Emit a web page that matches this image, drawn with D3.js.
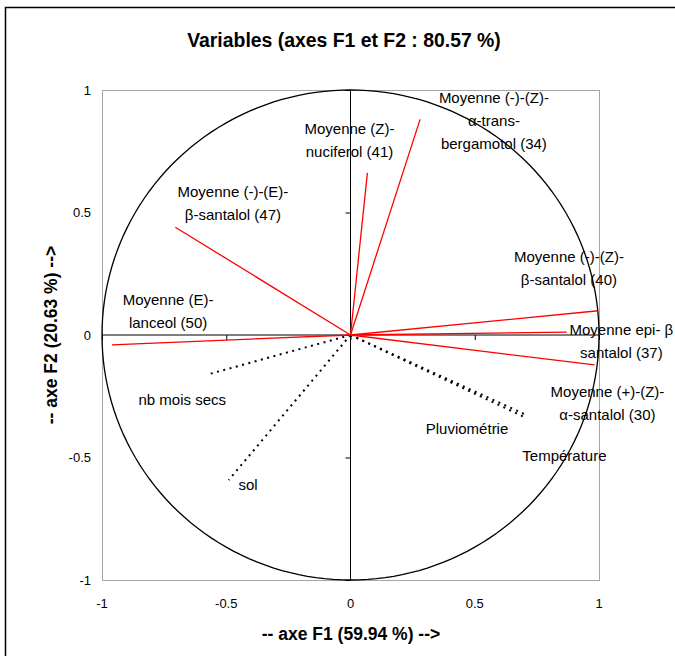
<!DOCTYPE html>
<html>
<head>
<meta charset="utf-8">
<script src="https://cdn.jsdelivr.net/npm/d3@7"></script>
<style>
  html, body { margin: 0; padding: 0; background: #fff; }
  svg { display: block; font-family: "Liberation Sans", Arial, sans-serif; }
</style>
</head>
<body>
<svg id="chart" width="675" height="656"></svg>
<script>
// ---------------- DATA ----------------
const title = "Variables (axes F1 et F2 : 80.57 %)";
const xAxisTitle = "-- axe F1 (59.94 %) -->";
const yAxisTitle = "-- axe F2 (20.63 %) -->";

const tickValues = [-1, -0.5, 0, 0.5, 1];
const tickLabels = ["-1", "-0.5", "0", "0.5", "1"];

// Active variables (red vectors)
const activeLabels = [
  ["Moyenne (E)-", "lanceol (50)"],
  ["Moyenne (-)-(E)-", "\u03b2-santalol (47)"],
  ["Moyenne (Z)-", "nuciferol (41)"],
  ["Moyenne (-)-(Z)-", "\u03b1-trans-", "bergamotol (34)"],
  ["Moyenne (-)-(Z)-", "\u03b2-santalol (40)"],
  ["Moyenne epi- \u03b2", "santalol (37)"],
  ["Moyenne (+)-(Z)-", "\u03b1-santalol (30)"]
];
const activeF1 = [-0.960, -0.705, 0.068, 0.280, 0.997, 0.870, 0.982];
const activeF2 = [-0.040, 0.440, 0.662, 0.880, 0.099, 0.012, -0.122];

// Supplementary variables (black dotted vectors)
const suppLabels = [["nb mois secs"], ["sol"], ["Pluviom\u00e9trie"], ["Temp\u00e9rature"]];
const suppF1 = [-0.567, -0.490, 0.700, 0.705];
const suppF2 = [-0.159, -0.592, -0.335, -0.325];

// ---------------- LAYOUT ----------------
// label anchors (centre of first text line), in F1/F2 units
const activeLabelAt = [
  [-0.734, 0.143], [-0.473, 0.584], [-0.004, 0.841], [0.577, 0.971],
  [0.879, 0.322], [1.090, 0.024], [1.034, -0.229]
];
const suppLabelAt = [[-0.677, -0.265], [-0.412, -0.612], [0.469, -0.380], [0.861, -0.490]];

const svg = d3.select("#chart");

const x = d3.scaleLinear().domain([-1, 1]).range([102, 599]);
const y = d3.scaleLinear().domain([-1, 1]).range([580, 90]);

// outer chart border (extends past the window on right/bottom)
svg.append("rect")
  .attr("x", 5.5).attr("y", 7.5).attr("width", 700).attr("height", 700)
  .attr("fill", "#fff").attr("stroke", "#000").attr("stroke-width", 1.5);

// plot area border
svg.append("rect")
  .attr("x", x(-1) + 0.5).attr("y", y(1) + 0.5)
  .attr("width", x(1) - x(-1)).attr("height", y(-1) - y(1))
  .attr("fill", "none").attr("stroke", "#a6a6a6").attr("stroke-width", 1);

// unit circle
const circ = d3.range(0, 361, 2).map(a => [Math.cos(a * Math.PI / 180), Math.sin(a * Math.PI / 180)]);
svg.append("path")
  .attr("d", d3.line().x(d => x(d[0])).y(d => y(d[1]))(circ))
  .attr("fill", "none").attr("stroke", "#000").attr("stroke-width", 1.3);

// axes through origin with D3 axis generators
const xAxis = d3.axisBottom(x).tickValues(tickValues).tickSize(5).tickFormat("");
const gx = svg.append("g").attr("transform", `translate(0,${y(0)})`).call(xAxis);
gx.select(".domain").attr("d", `M${x(-1)},0H${x(1)}`).attr("stroke", "#000");
gx.selectAll(".tick line").attr("stroke", "#000");

const yAxis = d3.axisLeft(y).tickValues(tickValues).tickSize(5).tickFormat("");
const gy = svg.append("g").attr("transform", `translate(${x(0)},0)`).call(yAxis);
gy.select(".domain").attr("d", `M0,${y(1)}V${y(-1)}`).attr("stroke", "#000");
gy.selectAll(".tick line").attr("stroke", "#000");

// tick labels at the plot edges
svg.append("g").selectAll("text").data(tickValues).join("text")
  .attr("x", d => x(d)).attr("y", 603)
  .attr("text-anchor", "middle").attr("dominant-baseline", "central")
  .attr("font-size", 13).attr("fill", "#000")
  .text((d, i) => tickLabels[i]);
svg.append("g").selectAll("text").data(tickValues).join("text")
  .attr("x", 91).attr("y", d => y(d))
  .attr("text-anchor", "end").attr("dominant-baseline", "central")
  .attr("font-size", 13).attr("fill", "#000")
  .text((d, i) => tickLabels[i]);

// supplementary vectors
svg.append("g").selectAll("line").data(suppF1).join("line")
  .attr("x1", x(0)).attr("y1", y(0))
  .attr("x2", d => x(d)).attr("y2", (d, i) => y(suppF2[i]))
  .attr("stroke", "#000").attr("stroke-width", 2)
  .attr("stroke-dasharray", "2,4.5");

// active vectors
svg.append("g").selectAll("line").data(activeF1).join("line")
  .attr("x1", x(0)).attr("y1", y(0))
  .attr("x2", d => x(d)).attr("y2", (d, i) => y(activeF2[i]))
  .attr("stroke", "#ff0000").attr("stroke-width", 1.3);

// labels
function drawLabels(lines, at) {
  const g = svg.append("g");
  lines.forEach((ls, i) => {
    const t = g.append("text")
      .attr("x", x(at[i][0])).attr("y", y(at[i][1]))
      .attr("text-anchor", "middle").attr("font-size", 15).attr("fill", "#000");
    ls.forEach((s, j) => {
      t.append("tspan").attr("x", x(at[i][0])).attr("y", y(at[i][1]) + j * 23)
        .attr("dominant-baseline", "central").text(s);
    });
  });
}
drawLabels(activeLabels, activeLabelAt);
drawLabels(suppLabels, suppLabelAt);

// titles
svg.append("text").attr("x", 344).attr("y", 40)
  .attr("text-anchor", "middle").attr("dominant-baseline", "central")
  .attr("font-size", 19.4).attr("font-weight", "bold").text(title);
svg.append("text").attr("x", 351).attr("y", 634)
  .attr("text-anchor", "middle").attr("dominant-baseline", "central")
  .attr("font-size", 17.5).attr("font-weight", "bold").text(xAxisTitle);
svg.append("text").attr("transform", "translate(51,335) rotate(-90)")
  .attr("text-anchor", "middle").attr("dominant-baseline", "central")
  .attr("font-size", 17.5).attr("font-weight", "bold").text(yAxisTitle);
</script>
</body>
</html>
